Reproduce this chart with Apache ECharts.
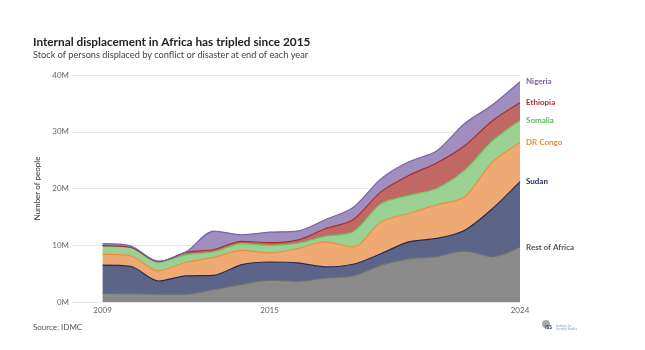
<!DOCTYPE html>
<html>
<head>
<meta charset="utf-8">
<title>Internal displacement in Africa</title>
<script src="https://cdn.jsdelivr.net/npm/echarts@6/dist/echarts.min.js"></script>
<style>
  html, body { margin: 0; padding: 0; background: #fff; }
  #main { width: 645px; height: 350px; }
</style>
</head>
<body>
<div id="main"></div>
<script>
// data, millions of people
var years = [2009, 2010, 2011, 2012, 2013, 2014, 2015, 2016, 2017, 2018, 2019, 2020, 2021, 2022, 2023, 2024];
var restOfAfrica = [1.5, 1.45, 1.4, 1.4, 2.2, 3.1, 3.85, 3.65, 4.25, 4.6, 6.5, 7.6, 8.0, 9.0, 8.0, 9.7];
var sudan        = [5.0, 4.85, 2.3, 3.2, 2.5, 3.5, 3.2, 3.25, 1.95, 2.05, 2.0, 3.0, 3.2, 3.6, 8.4, 11.5];
var drCongo      = [1.9, 1.85, 1.8, 2.4, 3.15, 2.5, 1.6, 2.5, 4.4, 3.05, 5.6, 5.0, 5.9, 5.9, 8.2, 6.9];
var somalia      = [1.45, 1.45, 1.5, 1.35, 1.0, 1.2, 1.35, 0.95, 1.0, 2.7, 3.2, 3.2, 2.9, 4.7, 3.8, 3.9];
var ethiopia     = [0.1, 0.05, 0.1, 0.4, 0.4, 0.4, 0.45, 0.55, 1.3, 2.1, 2.1, 3.5, 4.5, 4.3, 3.5, 3.1];
var nigeria      = [0.35, 0.25, 0.1, 0.1, 3.25, 1.15, 1.85, 1.6, 1.6, 2.15, 2.3, 2.4, 2.1, 3.9, 2.8, 3.7];
var xTicks = [2009, 2015, 2024];

var font = 'Lato, "Noto Sans", sans-serif';

// value first, year second: echarts stacks the first numeric dimension,
// so with two value axes the y value has to come first
function pairs(vals) {
    var out = [];
    for (var i = 0; i < years.length; i++) out.push([vals[i], years[i]]);
    return out;
}

function layer(name, vals, fill, line, labelColor) {
    return {
        name: name,
        type: 'line',
        stack: 'total',
        smooth: 0.3,
        symbol: 'none',
        encode: { x: 1, y: 0 },
        data: pairs(vals),
        lineStyle: { width: 1.2, color: line },
        areaStyle: { color: fill, opacity: 1 },
        endLabel: {
            show: true,
            formatter: name,
            distance: 6,
            color: labelColor,
            fontFamily: font,
            fontWeight: 'bold',
            fontSize: 8
        }
    };
}

var option = {
    backgroundColor: '#fff',
    animation: false,
    title: {
        left: 28,
        top: 31,
        text: 'Internal displacement in Africa has tripled since 2015',
        textStyle: { fontFamily: font, fontWeight: 'bold', fontSize: 11.8, color: '#222' },
        subtext: 'Stock of persons displaced by conflict or disaster at end of each year',
        subtextStyle: { fontFamily: font, fontSize: 9.2, color: '#444' },
        itemGap: 3
    },
    grid: { left: 72, right: 125, top: 75, bottom: 48 },
    xAxis: {
        type: 'value',
        min: 2007.9,
        max: 2024,
        axisLine: { show: false },
        axisTick: { show: false },
        splitLine: { show: false },
        axisLabel: {
            customValues: xTicks,
            formatter: function (v) { return String(v); },
            color: '#666',
            fontFamily: font,
            fontSize: 8,
            margin: 4
        }
    },
    yAxis: {
        type: 'value',
        min: 0,
        max: 40,
        interval: 10,
        name: 'Number of people',
        nameLocation: 'middle',
        nameGap: 29,
        nameTextStyle: { color: '#333', fontFamily: font, fontSize: 8 },
        axisLine: { show: false },
        axisTick: { show: false },
        axisLabel: {
            formatter: '{value}M',
            color: '#666',
            fontFamily: font,
            fontSize: 8,
            margin: 3
        },
        splitLine: { lineStyle: { color: '#e8e8e8', width: 1 } }
    },
    graphic: [
        { type: 'text', left: 33, top: 323,
          style: { text: 'Source: IDMC', fill: '#555', font: '8px ' + font } },
        { type: 'circle', left: 542, top: 320, shape: { r: 4 }, style: { fill: '#aaa' } },
        { type: 'text', left: 545, top: 325,
          style: { text: 'ISS', fill: '#2a3a6a', font: 'bold 5px ' + font } },
        { type: 'text', left: 556, top: 325,
          style: { text: 'Institute for\nSecurity Studies', fill: '#7f9cc0', font: '3px ' + font } }
    ],
    series: [
        layer('Rest of Africa', restOfAfrica, '#8a8a8a', '#6e6e6e', '#555'),
        layer('Sudan', sudan, '#5c6587', '#1e2a5c', '#1e2a5c'),
        layer('DR Congo', drCongo, '#eeaa72', '#f08a3a', '#f08a3a'),
        layer('Somalia', somalia, '#9bd093', '#6cbf5c', '#5fb85a'),
        layer('Ethiopia', ethiopia, '#c26864', '#a72b2b', '#b03030'),
        layer('Nigeria', nigeria, '#a08ebf', '#7b62a8', '#7b5ea7')
    ]
};

var myChart = echarts.init(document.getElementById('main'));
myChart.setOption(option);
</script>
</body>
</html>
